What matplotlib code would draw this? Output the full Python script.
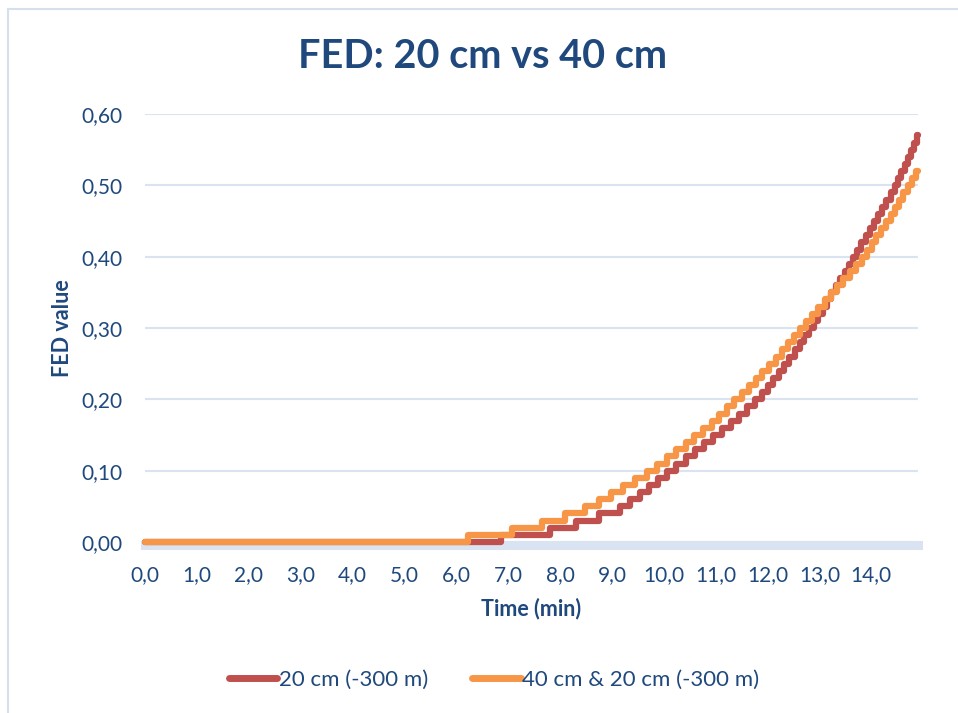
import matplotlib
matplotlib.use("Agg")
import matplotlib.pyplot as plt
from matplotlib.patches import Rectangle
from matplotlib.lines import Line2D
from matplotlib.ticker import FuncFormatter, MultipleLocator

plt.rcParams['font.family'] = ['Lato', 'DejaVu Sans']

# FED steps: time (min) at which each new value is reached
red_time = [0.0, 6.86, 7.80, 8.30, 8.76, 9.15, 9.35, 9.54, 9.72, 9.89, 10.06,
            10.24, 10.42, 10.60, 10.78, 10.95, 11.12, 11.29, 11.45, 11.60, 11.75,
            11.89, 12.00, 12.11, 12.22, 12.32, 12.42, 12.52, 12.62, 12.71, 12.80,
            12.89, 12.98, 13.07, 13.15, 13.23, 13.32, 13.40, 13.49, 13.57, 13.65,
            13.73, 13.81, 13.89, 13.97, 14.05, 14.13, 14.21, 14.29, 14.37, 14.45,
            14.52, 14.58, 14.64, 14.70, 14.76, 14.82, 14.88, 14.90]
red_fed = [0.00, 0.01, 0.02, 0.03, 0.04, 0.05, 0.06, 0.07, 0.08, 0.09, 0.10,
           0.11, 0.12, 0.13, 0.14, 0.15, 0.16, 0.17, 0.18, 0.19, 0.20,
           0.21, 0.22, 0.23, 0.24, 0.25, 0.26, 0.27, 0.28, 0.29, 0.30,
           0.31, 0.32, 0.33, 0.34, 0.35, 0.36, 0.37, 0.38, 0.39, 0.40,
           0.41, 0.42, 0.43, 0.44, 0.45, 0.46, 0.47, 0.48, 0.49, 0.50,
           0.51, 0.52, 0.53, 0.54, 0.55, 0.56, 0.57, 0.57]

orange_time = [0.0, 6.22, 7.07, 7.66, 8.09, 8.48, 8.75, 8.99, 9.22, 9.45, 9.68,
               9.87, 10.06, 10.24, 10.42, 10.59, 10.76, 10.92, 11.07, 11.22, 11.36,
               11.50, 11.64, 11.77, 11.90, 12.03, 12.16, 12.28, 12.40, 12.51, 12.62,
               12.74, 12.86, 12.98, 13.10, 13.22, 13.34, 13.46, 13.58, 13.70, 13.82,
               13.92, 14.01, 14.10, 14.19, 14.28, 14.37, 14.45, 14.54, 14.62, 14.70,
               14.78, 14.86, 14.90]
orange_fed = [0.00, 0.01, 0.02, 0.03, 0.04, 0.05, 0.06, 0.07, 0.08, 0.09, 0.10,
              0.11, 0.12, 0.13, 0.14, 0.15, 0.16, 0.17, 0.18, 0.19, 0.20,
              0.21, 0.22, 0.23, 0.24, 0.25, 0.26, 0.27, 0.28, 0.29, 0.30,
              0.31, 0.32, 0.33, 0.34, 0.35, 0.36, 0.37, 0.38, 0.39, 0.40,
              0.41, 0.42, 0.43, 0.44, 0.45, 0.46, 0.47, 0.48, 0.49, 0.50,
              0.51, 0.52, 0.52]

labels = ['20 cm (-300 m)', '40 cm & 20 cm (-300 m)']
colors = ['#C0504D', '#F79646']
text_col = '#1F497D'
grid_col = '#D9E3F1'

W, H = 958, 713
fig = plt.figure(figsize=(W / 100, H / 100), dpi=100)
fig.patch.set_facecolor('white')

# chart frame
fig.patches.append(Rectangle((8 / W, -0.1), 1.2, 1.1 - 9 / H, transform=fig.transFigure,
                             fill=False, edgecolor='#D6DFEC', lw=1.5))

ax = fig.add_axes([145 / W, 1 - 542 / H, (918 - 145) / W, (542 - 114) / H])
ax.set_xlim(0, 14.9)
ax.set_ylim(0, 0.6)

ax.step(red_time, red_fed, where='post', color=colors[0], lw=4.5,
        solid_joinstyle='round', solid_capstyle='round', zorder=3, clip_on=False)
ax.step(orange_time, orange_fed, where='post', color=colors[1], lw=4.5,
        solid_joinstyle='round', solid_capstyle='round', zorder=4, clip_on=False)

for s in ['left', 'right', 'top']:
    ax.spines[s].set_visible(False)
ax.spines['bottom'].set_color(grid_col)
ax.spines['bottom'].set_linewidth(6.5)
ax.spines['bottom'].set_position(('outward', 2.5))
ax.spines['bottom'].set_zorder(1)

ax.yaxis.set_major_locator(MultipleLocator(0.1))
ax.xaxis.set_major_locator(MultipleLocator(1.0))
ax.yaxis.set_major_formatter(FuncFormatter(lambda v, p: f'{v:.2f}'.replace('.', ',')))
ax.xaxis.set_major_formatter(FuncFormatter(lambda v, p: f'{v:.1f}'.replace('.', ',')))
ax.grid(axis='y', color=grid_col, lw=1.5, zorder=0)
ax.set_axisbelow(True)
ax.tick_params(axis='both', length=0, labelsize=15, labelcolor=text_col)
ax.tick_params(axis='y', pad=16)
ax.tick_params(axis='x', pad=14)

ax.set_xlabel('Time (min)', fontsize=15.5, fontweight='bold', color=text_col, labelpad=9)
ax.set_ylabel('FED value', fontsize=15.5, fontweight='bold', color=text_col, labelpad=6)

fig.text(483 / W, 1 - 57 / H, 'FED: 20 cm vs 40 cm', ha='center', va='center',
         fontsize=28.5, fontweight='bold', color=text_col)

handles = [Line2D([0], [0], color=c, lw=5, solid_capstyle='round') for c in colors]
fig.legend(handles, labels, loc='center', bbox_to_anchor=(494 / W, 1 - 680 / H),
           ncol=2, frameon=False, fontsize=16, labelcolor=text_col,
           handlelength=2.2, handletextpad=0.05, columnspacing=2.0)

fig.savefig('out.png', dpi=100)
